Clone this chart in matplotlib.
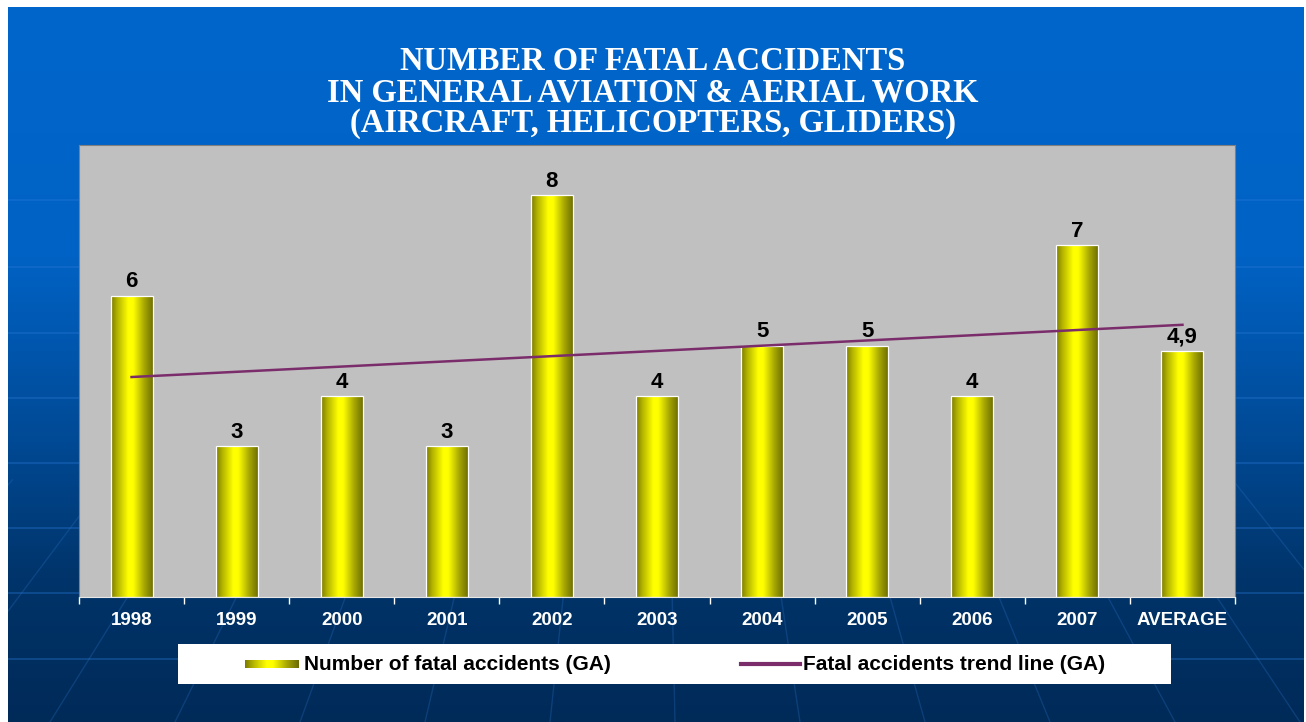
import numpy as np
import matplotlib
matplotlib.use("Agg")
import matplotlib.pyplot as plt
from matplotlib.colors import LinearSegmentedColormap

categories = ["1998", "1999", "2000", "2001", "2002", "2003", "2004", "2005",
              "2006", "2007", "AVERAGE"]
accidents = [6, 3, 4, 3, 8, 4, 5, 5, 4, 7, 4.9]
value_labels = ["6", "3", "4", "3", "8", "4", "5", "5", "4", "7", "4,9"]
trend_start, trend_end = 4.38, 5.42   # trend line (1998 / AVERAGE)

title = ("NUMBER OF FATAL ACCIDENTS\nIN GENERAL AVIATION & AERIAL WORK\n"
         "(AIRCRAFT, HELICOPTERS, GLIDERS)")
bar_name = "Number of fatal accidents (GA)"
trend_name = "Fatal accidents trend line (GA)"

W, H = 1306, 722
fig = plt.figure(figsize=(W / 100, H / 100), dpi=100, facecolor="white")

# slide background: blue gradient with faint lines (pixel coords)
bg = fig.add_axes([8 / W, 0, (1304 - 8) / W, (H - 7) / H])
bg_cmap = LinearSegmentedColormap.from_list(
    "bg", [(0, "#0066cc"), (0.35, "#0062c4"), (0.6, "#004a96"),
           (0.8, "#00346a"), (1, "#002a58")])
bg.imshow(np.linspace(0, 1, 256)[:, None], cmap=bg_cmap, aspect="auto",
          extent=[8, 1304, H, 7])
for yy in [200, 267, 333, 398, 463, 528, 593, 659]:
    bg.axhline(yy, color="#2a7ad8", lw=1.2, alpha=0.4)
# faint radiating lines, only in the lower part of the slide
y0, apex = 480, -250
for xb in np.arange(-700, 2100, 125):
    t = (y0 - apex) / (H - apex)
    bg.plot([653 + (xb - 653) * t, xb], [y0, H], color="#2a6fc0", lw=1, alpha=0.3)
bg.set_xlim(8, 1304); bg.set_ylim(H, 7)
bg.axis("off")

fig.text(653 / W, 1 - 46 / H, title, ha="center", va="top", color="white",
         fontsize=23.5, fontweight="bold", family="Liberation Serif", linespacing=1.0)

# chart
ax = fig.add_axes([79 / W, (H - 597) / H, (1235 - 79) / W, (597 - 145) / H])
ax.set_facecolor("#c0c0c0")
x = np.arange(len(categories))
bar_cmap = LinearSegmentedColormap.from_list(
    "bar", [(0, "#7a7a00"), (0.15, "#b4b400"), (0.4, "#ffff00"), (0.52, "#ffff00"),
            (0.78, "#a6a600"), (1, "#6a6a00")])
grad = np.linspace(0, 1, 128)[None, :]
bars = ax.bar(x, accidents, width=0.4, color="none", edgecolor="white", lw=0.9, zorder=2)
for b in bars:
    im = ax.imshow(grad, cmap=bar_cmap, aspect="auto", zorder=1.9,
                   extent=[b.get_x(), b.get_x() + b.get_width(), 0, b.get_height()])
    im.set_clip_path(b)
ax.plot([x[0], x[-1]], [trend_start, trend_end], color="#7b2d6b", lw=1.8, zorder=3)
for xi, v, lab in zip(x, accidents, value_labels):
    ax.text(xi, v + 0.07, lab, ha="center", va="bottom", fontsize=16,
            fontweight="bold", color="black", family="Liberation Sans")

ax.set_xlim(-0.5, len(categories) - 0.5)
ax.set_ylim(0, 9)
ax.set_yticks([])
ax.set_xticks(x, categories)
ax.set_xticks(np.arange(-0.5, len(categories)), minor=True)
ax.tick_params(axis="x", which="major", length=0, pad=11, labelcolor="white",
               labelsize=13.5)
ax.tick_params(axis="x", which="minor", length=5, color="white", width=1)
for lbl in ax.get_xticklabels():
    lbl.set_fontweight("bold"); lbl.set_family("Liberation Sans")
for s in ["left", "top", "right"]:
    ax.spines[s].set_color("#808080")
ax.spines["bottom"].set_color("#e6e6e6")

# legend box, drawn like the slide's
lax = fig.add_axes([178 / W, (H - 684) / H, (1171 - 178) / W, 40 / H])
lax.set_facecolor("white")
lax.imshow(grad, cmap=bar_cmap, aspect="auto", extent=[67, 120, 16, 24])
lax.text(126, 20, bar_name, va="center", ha="left", fontsize=15,
         fontweight="bold", family="Liberation Sans")
lax.plot([563, 622], [20, 20], color="#7b2d6b", lw=3)
lax.text(625, 20, trend_name, va="center", ha="left", fontsize=15,
         fontweight="bold", family="Liberation Sans")
lax.set_xlim(0, 993); lax.set_ylim(0, 40)
lax.set_xticks([]); lax.set_yticks([])
for s in lax.spines.values():
    s.set_visible(False)

fig.savefig("out.png", dpi=100, facecolor="white")
